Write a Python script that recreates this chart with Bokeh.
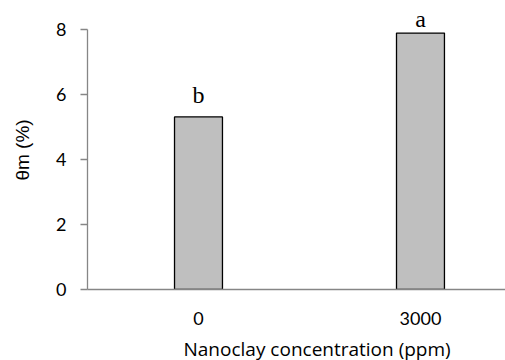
from bokeh.plotting import figure
from bokeh.models import Range1d, FixedTicker, ColumnDataSource, Title
from bokeh.core.properties import value
from bokeh.embed import file_html
from bokeh.resources import INLINE

categories = ["0", "3000"]
theta_m = [5.31, 7.89]
letters = ["b", "a"]
letter_pad = [0.66, 0.43]
y_ticks = [0, 2, 4, 6, 8]

pos = [i + 0.5 for i in range(len(categories))]
src = ColumnDataSource(dict(
    x=pos, top=theta_m, letter=letters,
    ly=[v + d for v, d in zip(theta_m, letter_pad)],
))

p = figure(frame_width=418, frame_height=279, output_backend="svg",
           toolbar_location=None,
           x_range=Range1d(0, 1.883), y_range=Range1d(0, 8.585),
           min_border_left=87, min_border_right=0, min_border_top=10,
           min_border_bottom=71)
p.background_fill_color = "white"
p.border_fill_color = "white"
p.outline_line_color = None
p.xgrid.visible = False
p.ygrid.visible = False

p.vbar(x="x", top="top", bottom=0, width=0.216, fill_color="#BFBFBF",
       line_color="black", line_width=1.3, source=src)
p.text(x="x", y="ly", text="letter", text_align="center",
       text_baseline="alphabetic", text_font=value("Liberation Serif"),
       text_font_size="24px", text_color="black", source=src)

AX = "#868686"
ya = p.yaxis[0]
ya.ticker = FixedTicker(ticks=y_ticks)
ya.bounds = (0, 8)
ya.axis_line_color = AX
ya.axis_line_width = 1.3
ya.major_tick_line_color = AX
ya.major_tick_line_width = 1.3
ya.major_tick_out = 7
ya.major_tick_in = 0
ya.minor_tick_line_color = None
ya.major_label_standoff = 14
ya.major_label_text_font = "Lato"
ya.major_label_text_font_size = "18px"
ya.major_label_text_color = "black"
ya.axis_label = "θm (%)"
ya.axis_label_text_font = "Liberation Sans"
ya.axis_label_text_font_size = "19px"
ya.axis_label_text_font_style = "normal"
ya.axis_label_text_color = "black"
ya.axis_label_standoff = 20

xa = p.xaxis[0]
xa.ticker = FixedTicker(ticks=pos)
xa.major_label_overrides = {x: c for x, c in zip(pos, categories)}
xa.axis_line_color = AX
xa.axis_line_width = 1.3
xa.major_tick_line_color = None
xa.major_tick_out = 0
xa.major_tick_in = 0
xa.minor_tick_line_color = None
xa.major_label_standoff = 22
xa.major_label_text_font = "Lato"
xa.major_label_text_font_size = "18px"
xa.major_label_text_color = "black"

p.add_layout(Title(text="Nanoclay concentration (ppm)", align="left",
                   offset=96, vertical_align="middle", standoff=14,
                   text_font="Open Sans", text_font_size="19px",
                   text_font_style="normal", text_color="black"), "below")

open("out.html", "w").write(file_html(p, INLINE))
